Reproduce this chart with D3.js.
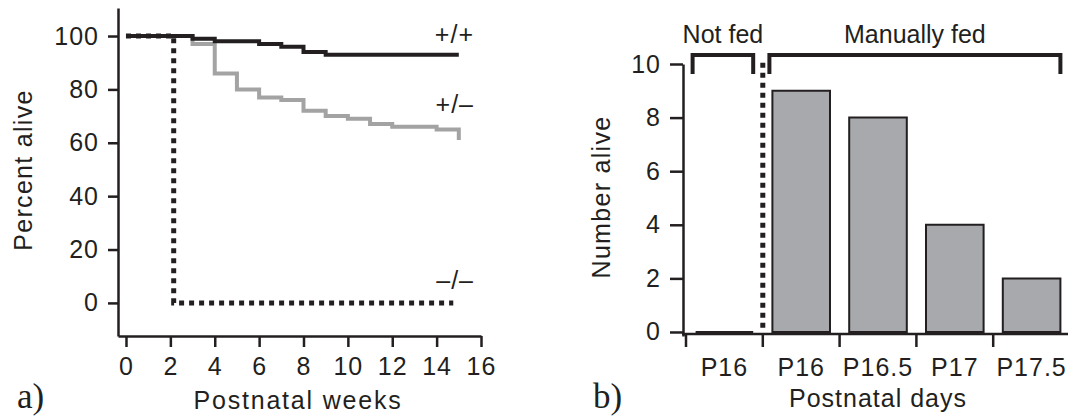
<!DOCTYPE html>
<html>
<head>
<meta charset="utf-8">
<script src="https://cdn.jsdelivr.net/npm/d3@7"></script>
<style>
  body { margin: 0; background: #fff; }
  text { font-family: "Liberation Sans", Arial, sans-serif; fill: #231f20; }
</style>
</head>
<body>
<script>
// survival curves (percent alive by postnatal week)
var wtWeeks = [0, 3, 4, 6, 7, 8, 9, 15];
var wtPct = [100, 99, 98, 97, 96, 94, 93, 93];
var hetWeeks = [0, 3, 4, 5, 6, 7, 8, 9, 10, 11, 12, 14, 15];
var hetPct = [100, 97, 86, 80, 77, 76, 72, 70, 69, 67, 66, 65, 61];
var koWeeks = [0, 2.15, 14.75];
var koPct = [100, 0, 0];
var weekTicks = [0, 2, 4, 6, 8, 10, 12, 14, 16];
var pctTicks = [0, 20, 40, 60, 80, 100];

// number alive per day
var dayLabels = ["P16", "P16", "P16.5", "P17", "P17.5"];
var dayGroup = ["Not fed", "Manually fed", "Manually fed", "Manually fed", "Manually fed"];
var alive = [0, 9, 8, 4, 2];
var aliveTicks = [0, 2, 4, 6, 8, 10];

var ink = "#231f20";
var svg = d3.select("body").append("svg")
  .attr("width", 1068).attr("height", 416);

function styleAxis(g, sw) {
  g.attr("font-size", 25).attr("font-family", null);
  g.selectAll("path, line").attr("stroke", ink).attr("stroke-width", sw);
  g.selectAll("text").attr("fill", ink).attr("letter-spacing", 1);
}

// ---------- panel a ----------
var x = d3.scaleLinear().domain([-0.36, 16]).range([118, 481]);
var y = d3.scaleLinear().domain([-12.4, 110.5]).range([336, 8]);

var ay = svg.append("g").attr("transform", "translate(118,0)")
  .call(d3.axisLeft(y).tickValues(pctTicks).tickSize(10).tickPadding(9).tickSizeOuter(0));
styleAxis(ay, 2.5);
var ax = svg.append("g").attr("transform", "translate(0,336)")
  .call(d3.axisBottom(x).tickValues(weekTicks).tickSize(11).tickPadding(10).tickSizeOuter(0));
styleAxis(ax, 2.5);

function stepLine(ws, ps) {
  return d3.line().curve(d3.curveStepAfter)
    .x((d, i) => x(ws[i])).y(d => y(d))(ps);
}

svg.append("path").attr("d", stepLine(koWeeks, koPct))
  .attr("fill", "none").attr("stroke", ink).attr("stroke-width", 5)
  .attr("stroke-dasharray", "5,5");
svg.append("path").attr("d", stepLine(hetWeeks, hetPct))
  .attr("fill", "none").attr("stroke", "#a3a3a3").attr("stroke-width", 4);
svg.append("path").attr("d", stepLine(wtWeeks, wtPct))
  .attr("fill", "none").attr("stroke", ink).attr("stroke-width", 4);

[["+/+", 97.4], ["+/\u2013", 71.2], ["\u2013/\u2013", 5.2]].forEach(function (l) {
  svg.append("text").attr("x", 474).attr("y", y(l[1]))
    .attr("text-anchor", "end").attr("font-size", 25).attr("letter-spacing", 1).text(l[0]);
});

svg.append("text").attr("transform", "translate(32,170) rotate(-90)")
  .attr("text-anchor", "middle").attr("font-size", 25).attr("letter-spacing", 1.3)
  .text("Percent alive");
svg.append("text").attr("x", 298).attr("y", 409)
  .attr("text-anchor", "middle").attr("font-size", 25).attr("letter-spacing", 1.8)
  .text("Postnatal weeks");
svg.append("text").attr("x", 17).attr("y", 408)
  .style("font-family", "'Liberation Serif', 'Times New Roman', serif")
  .attr("font-size", 35).text("a)");

// ---------- panel b ----------
var ids = d3.range(alive.length);
var xb = d3.scaleBand().domain(ids).range([686, 1070]).paddingInner(0.25).paddingOuter(0.125);
var yb = d3.scaleLinear().domain([-0.15, 10]).range([336, 64]);

var by = svg.append("g").attr("transform", "translate(683,0)")
  .call(d3.axisLeft(yb).tickValues(aliveTicks).tickSize(13).tickPadding(9).tickSizeOuter(0));
styleAxis(by, 2.5);

var bx = svg.append("g").attr("transform", "translate(0,334)")
  .call(d3.axisBottom(xb).tickSize(0).tickPadding(24).tickFormat(i => dayLabels[i]));
styleAxis(bx, 2.5);
bx.select(".domain").remove();
bx.append("line").attr("x1", 682).attr("x2", 1068)
  .attr("stroke", ink).attr("stroke-width", 2.5);
var gap = (xb.step() - xb.bandwidth()) / 2;
bx.selectAll(".edge").data(ids).join("line").attr("class", "edge")
  .attr("x1", i => xb(i) - gap).attr("x2", i => xb(i) - gap)
  .attr("y1", 0).attr("y2", 13)
  .attr("stroke", ink).attr("stroke-width", 2.5);

svg.selectAll(".bar").data(alive).join("path").attr("class", "bar")
  .attr("d", function (d, i) {
    var x0 = xb(i), x1 = xb(i) + xb.bandwidth();
    return "M" + x0 + "," + yb(0) + "V" + yb(d) + "H" + x1 + "V" + yb(0) + "Z";
  })
  .attr("fill", "#a7a9ac").attr("stroke", ink).attr("stroke-width", 2);

// dotted separator between groups
svg.append("line").attr("x1", xb(1) - gap).attr("x2", xb(1) - gap)
  .attr("y1", yb(10.05)).attr("y2", yb(0.1))
  .attr("stroke", ink).attr("stroke-width", 5).attr("stroke-dasharray", "5,5");

// group brackets
var groups = Array.from(new Set(dayGroup));
groups.forEach(function (gname) {
  var idx = ids.filter(i => dayGroup[i] === gname);
  var x0 = xb(idx[0]) - 3, x1 = xb(idx[idx.length - 1]) + xb.bandwidth();
  svg.append("path").attr("d", "M" + x0 + ",74V55H" + x1 + "V74")
    .attr("fill", "none").attr("stroke", ink).attr("stroke-width", 4);
  svg.append("text").attr("x", (x0 + x1) / 2).attr("y", 43)
    .attr("text-anchor", "middle").attr("font-size", 25).text(gname);
});

svg.append("text").attr("transform", "translate(610,197) rotate(-90)")
  .attr("text-anchor", "middle").attr("font-size", 25).attr("letter-spacing", 1.3)
  .text("Number alive");
svg.append("text").attr("x", 878).attr("y", 407)
  .attr("text-anchor", "middle").attr("font-size", 25).attr("letter-spacing", 1)
  .text("Postnatal days");
svg.append("text").attr("x", 593).attr("y", 408)
  .style("font-family", "'Liberation Serif', 'Times New Roman', serif")
  .attr("font-size", 35).text("b)");
</script>
</body>
</html>
